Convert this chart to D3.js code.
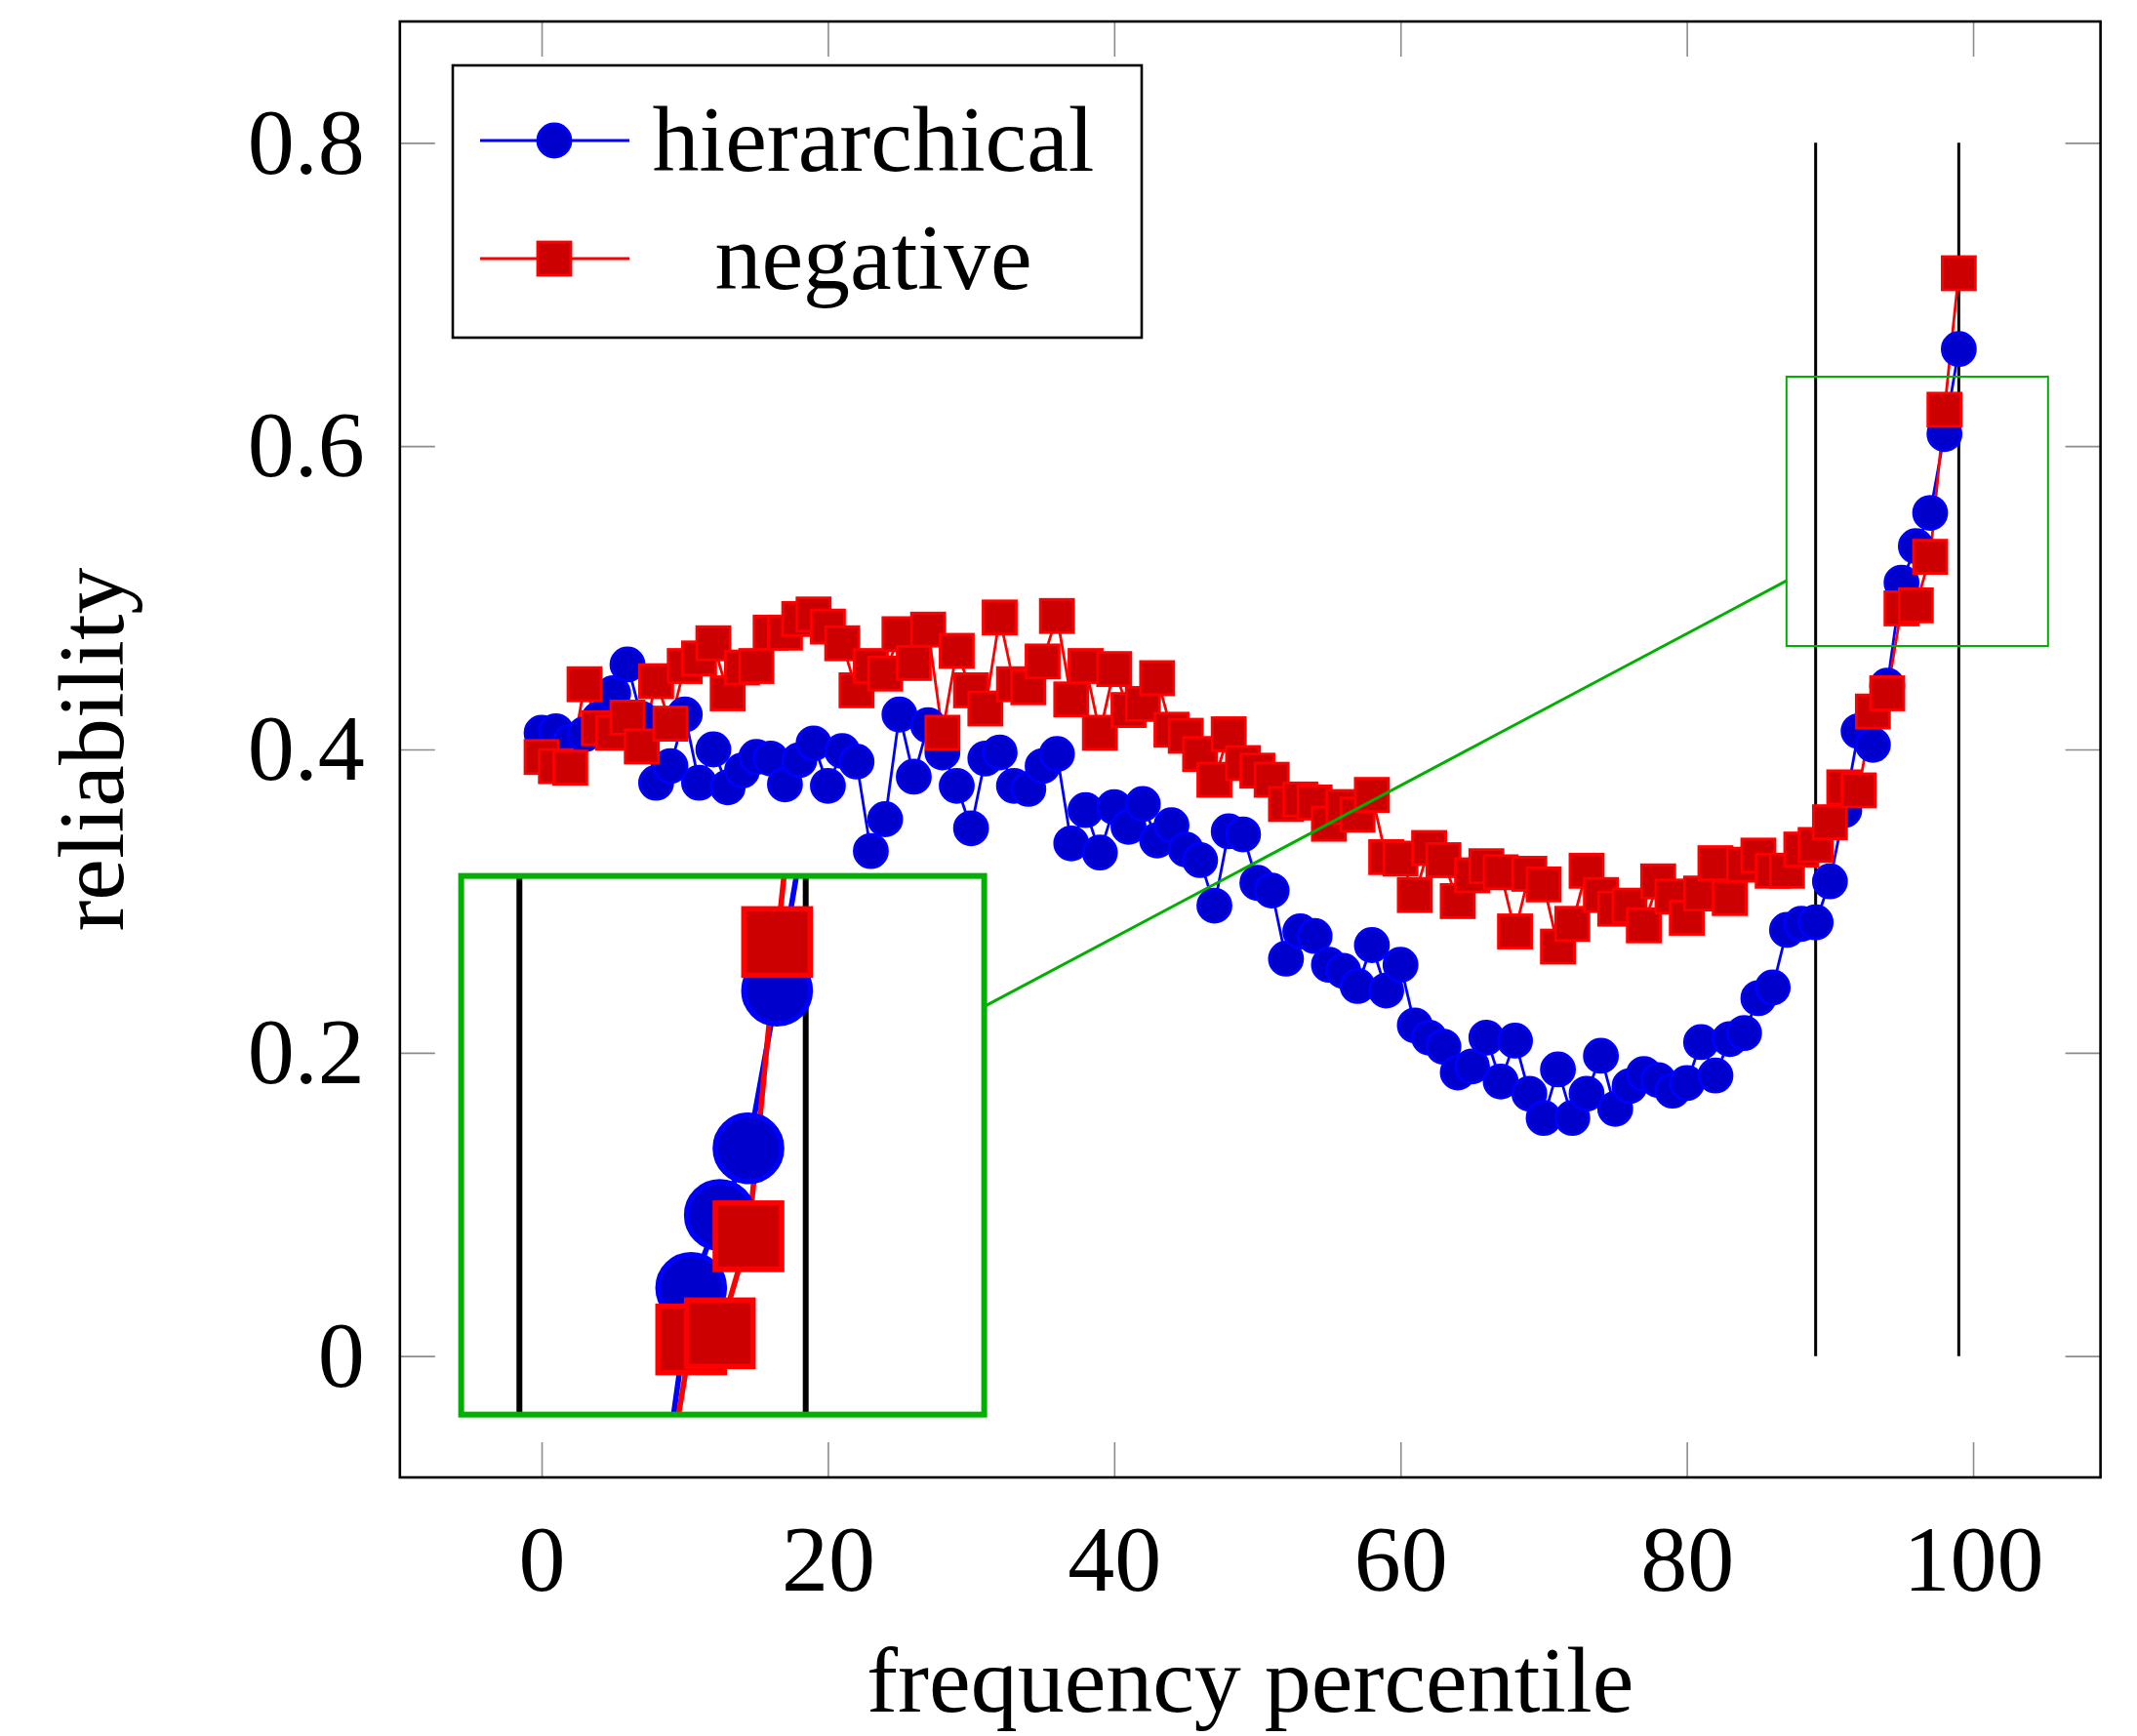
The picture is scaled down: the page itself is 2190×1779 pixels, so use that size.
<!DOCTYPE html>
<html>
<head>
<meta charset="utf-8">
<script src="https://cdn.jsdelivr.net/npm/d3@7"></script>
<style>
  body { margin: 0; background: #fff; }
  svg text { font-family: 'Liberation Serif', 'Times New Roman', serif; fill: #000; }
</style>
</head>
<body>
<svg id="chart"></svg>
<script>
const width = 2190
const height = 1779

// x: frequency percentile bins 0..99
const percentiles = d3.range(0, 100)

const hierarchical = [
  0.411, 0.412, 0.405, 0.41, 0.42, 0.437, 0.456, 0.42, 0.378, 0.389,
  0.423, 0.378, 0.4, 0.375, 0.386, 0.395, 0.394, 0.377, 0.393, 0.404,
  0.376, 0.399, 0.392, 0.333, 0.354, 0.423, 0.382, 0.416, 0.398, 0.376,
  0.348, 0.394, 0.398, 0.376, 0.374, 0.389, 0.397, 0.338, 0.36, 0.332,
  0.362, 0.349, 0.364, 0.34, 0.35, 0.334, 0.327, 0.297, 0.346, 0.344,
  0.312, 0.307, 0.262, 0.28, 0.277, 0.258, 0.254, 0.244, 0.271, 0.241,
  0.258, 0.218, 0.21, 0.204, 0.187, 0.191, 0.21, 0.181, 0.208, 0.173,
  0.157, 0.189, 0.157, 0.173, 0.198, 0.163, 0.178, 0.186, 0.182, 0.175,
  0.18, 0.207, 0.185, 0.209, 0.213, 0.236, 0.243, 0.281, 0.285, 0.286,
  0.313, 0.36, 0.412, 0.403, 0.442, 0.51, 0.534, 0.556, 0.608, 0.664
]

const negative = [
  0.395, 0.389, 0.388, 0.443, 0.414, 0.411, 0.421, 0.402, 0.445, 0.417,
  0.455, 0.46, 0.47, 0.437, 0.454, 0.455, 0.477, 0.477, 0.486, 0.489,
  0.481, 0.47, 0.439, 0.455, 0.45, 0.476, 0.457, 0.479, 0.411, 0.465,
  0.439, 0.427, 0.487, 0.443, 0.441, 0.458, 0.488, 0.433, 0.455, 0.411,
  0.453, 0.426, 0.43, 0.447, 0.413, 0.409, 0.397, 0.38, 0.41, 0.391,
  0.386, 0.38, 0.364, 0.367, 0.365, 0.351, 0.362, 0.357, 0.37, 0.329,
  0.328, 0.304, 0.335, 0.327, 0.3, 0.317, 0.323, 0.319, 0.28, 0.318,
  0.311, 0.27, 0.285, 0.32, 0.304, 0.295, 0.297, 0.284, 0.313, 0.303,
  0.289, 0.305, 0.325, 0.302, 0.324, 0.33, 0.32, 0.32, 0.334, 0.337,
  0.352, 0.375, 0.373, 0.425, 0.437, 0.493, 0.495, 0.527, 0.624, 0.714
]

const xTicks = [0, 20, 40, 60, 80, 100]
const yTicks = [0, 0.2, 0.4, 0.6, 0.8]
const markerLines = [89, 99]          // vertical black lines, drawn 0 .. 0.8
const markerLineRange = [0, 0.8]

// spy: small window around [x, y], magnified copy placed around spyTo
const spyAt = [96.1, 0.557]
const spyTo = [12.65, 0.139]
const spyZoom = 2

const series = [
  { name: 'hierarchical', values: hierarchical, stroke: '#0000ff', fill: '#0000cc', mark: 'circle' },
  { name: 'negative', values: negative, stroke: '#ff0000', fill: '#cc0000', mark: 'square' }
]

const svg = d3.select('#chart').attr('width', width).attr('height', height)
svg.append('rect').attr('width', width).attr('height', height).attr('fill', '#fff')

const x = d3.scaleLinear().domain([-9.9, 108.9]).range([409.8, 2152.6])
const y = d3.scaleLinear().domain([-0.08, 0.88]).range([1514, 22])

const markR = 17
const lineW = 2.8

function drawMark(sel, s) {
  if (s.mark === 'circle') {
    sel.append('circle').attr('r', markR)
  } else {
    sel.append('rect')
      .attr('x', -markR).attr('y', -markR)
      .attr('width', markR * 2).attr('height', markR * 2)
  }
  sel.attr('fill', s.fill).attr('stroke', s.stroke).attr('stroke-width', lineW)
}

function drawContent(g) {
  g.selectAll('.vline')
    .data(markerLines)
    .enter()
    .append('line')
    .attr('class', 'vline')
    .attr('x1', (d) => x(d))
    .attr('x2', (d) => x(d))
    .attr('y1', y(markerLineRange[0]))
    .attr('y2', y(markerLineRange[1]))
    .attr('stroke', '#000')
    .attr('stroke-width', 3)

  const line = d3.line()
    .x((d, i) => x(percentiles[i]))
    .y((d) => y(d))

  // lines first, marks on top
  series.forEach((s) => {
    g.append('path')
      .datum(s.values)
      .attr('d', line)
      .attr('fill', 'none')
      .attr('stroke', s.stroke)
      .attr('stroke-width', lineW)
      .attr('stroke-linejoin', 'round')
  })

  series.forEach((s) => {
    g.append('g')
      .selectAll('g')
      .data(s.values)
      .enter()
      .append('g')
      .attr('transform', (d, i) => `translate(${x(percentiles[i])},${y(d)})`)
      .each(function () {
        drawMark(d3.select(this), s)
      })
  })
}

// ticks (inside, mirrored on all sides)
const tickLen = 36
const tickColor = '#8c8c8c'
const [x0, x1] = x.range()
const [y0, y1] = y.range()

const axisB = svg.append('g').attr('transform', `translate(0,${y0})`)
  .call(d3.axisBottom(x).tickValues(xTicks).tickSize(-tickLen).tickPadding(48).tickFormat(d3.format('d')))
const axisT = svg.append('g').attr('transform', `translate(0,${y1})`)
  .call(d3.axisTop(x).tickValues(xTicks).tickSize(-tickLen).tickFormat(''))
const axisL = svg.append('g').attr('transform', `translate(${x0},0)`)
  .call(d3.axisLeft(y).tickValues(yTicks).tickSize(-tickLen).tickPadding(36).tickFormat((d) => String(d)))
const axisR = svg.append('g').attr('transform', `translate(${x1},0)`)
  .call(d3.axisRight(y).tickValues(yTicks).tickSize(-tickLen).tickFormat(''))

;[axisB, axisT, axisL, axisR].forEach((a) => {
  a.select('.domain').remove()
  a.selectAll('.tick line').attr('stroke', tickColor).attr('stroke-width', 1.6)
  a.selectAll('.tick text')
    .attr('font-family', "'Liberation Serif', 'Times New Roman', serif")
    .attr('font-size', 96)
    .attr('fill', '#000')
})

// plot content
drawContent(svg.append('g').attr('class', 'layer__content'))

// frame
svg.append('rect')
  .attr('x', x0).attr('y', y1)
  .attr('width', x1 - x0).attr('height', y0 - y1)
  .attr('fill', 'none')
  .attr('stroke', '#000')
  .attr('stroke-width', 2.6)

// axis labels
svg.append('text')
  .attr('x', (x0 + x1) / 2)
  .attr('y', 1754)
  .attr('text-anchor', 'middle')
  .attr('font-size', 96)
  .text('frequency percentile')

svg.append('text')
  .attr('transform', `translate(126,${(y0 + y1) / 2}) rotate(-90)`)
  .attr('text-anchor', 'middle')
  .attr('font-size', 96)
  .text('reliability')

// legend
const legend = svg.append('g').attr('class', 'legend')
legend.append('rect')
  .attr('x', 464).attr('y', 67)
  .attr('width', 706).attr('height', 279)
  .attr('fill', '#fff')
  .attr('stroke', '#000')
  .attr('stroke-width', 2.6)

series.forEach((s, i) => {
  const rowY = 144 + i * 121
  const row = legend.append('g')
  row.append('line')
    .attr('x1', 492).attr('x2', 645)
    .attr('y1', rowY).attr('y2', rowY)
    .attr('stroke', s.stroke)
    .attr('stroke-width', lineW)
  drawMark(row.append('g').attr('transform', `translate(568,${rowY})`), s)
  row.append('text')
    .attr('x', 895)
    .attr('y', rowY + 31)
    .attr('text-anchor', 'middle')
    .attr('font-size', 96)
    .text(s.name)
})

// spy window and magnified lens
const spyColor = '#00b000'
const hw = 134
const hh = 138
const sx = x(spyAt[0])
const sy = y(spyAt[1])
const tx = x(spyTo[0])
const ty = y(spyTo[1])

svg.append('rect')
  .attr('x', sx - hw).attr('y', sy - hh)
  .attr('width', hw * 2).attr('height', hh * 2)
  .attr('fill', 'none')
  .attr('stroke', spyColor)
  .attr('stroke-width', 2)

// connection between the two windows, along the centre line
function edgePoint(cx, cy, w, h, dx, dy) {
  const t = Math.min(w / Math.abs(dx), h / Math.abs(dy))
  return [cx + t * dx, cy + t * dy]
}
const p1 = edgePoint(sx, sy, hw, hh, tx - sx, ty - sy)
const p2 = edgePoint(tx, ty, hw * spyZoom, hh * spyZoom, sx - tx, sy - ty)
svg.append('line')
  .attr('x1', p1[0]).attr('y1', p1[1])
  .attr('x2', p2[0]).attr('y2', p2[1])
  .attr('stroke', spyColor)
  .attr('stroke-width', 3)

svg.append('defs').append('clipPath').attr('id', 'lens-clip')
  .append('rect')
  .attr('x', tx - hw * spyZoom).attr('y', ty - hh * spyZoom)
  .attr('width', hw * spyZoom * 2).attr('height', hh * spyZoom * 2)

const lens = svg.append('g').attr('clip-path', 'url(#lens-clip)')
lens.append('rect')
  .attr('x', tx - hw * spyZoom).attr('y', ty - hh * spyZoom)
  .attr('width', hw * spyZoom * 2).attr('height', hh * spyZoom * 2)
  .attr('fill', '#fff')
drawContent(lens.append('g')
  .attr('transform', `translate(${tx},${ty}) scale(${spyZoom}) translate(${-sx},${-sy})`))

svg.append('rect')
  .attr('x', tx - hw * spyZoom).attr('y', ty - hh * spyZoom)
  .attr('width', hw * spyZoom * 2).attr('height', hh * spyZoom * 2)
  .attr('fill', 'none')
  .attr('stroke', spyColor)
  .attr('stroke-width', 6)
</script>
</body>
</html>
